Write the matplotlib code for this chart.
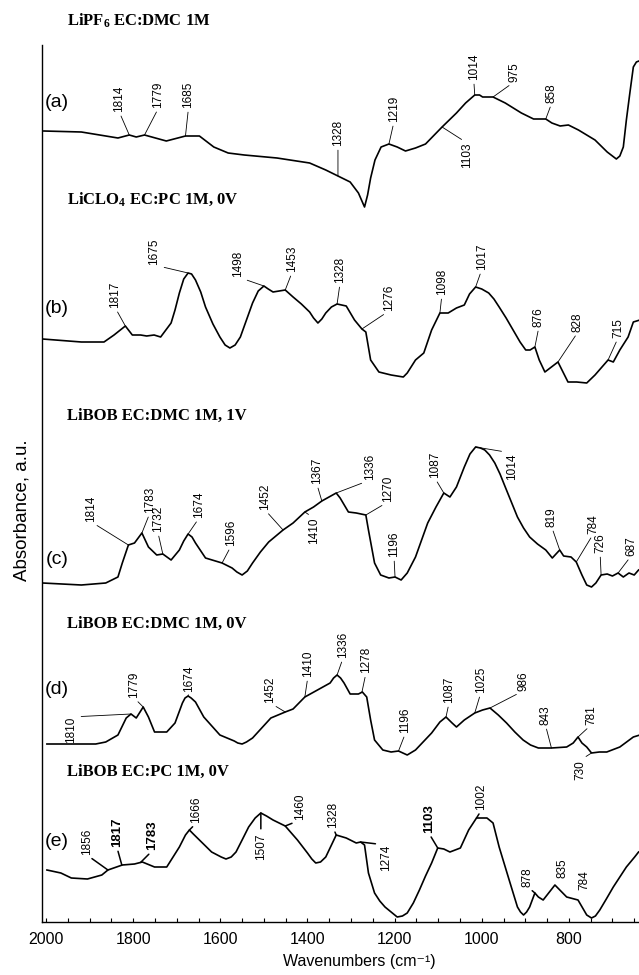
import numpy as np
import matplotlib
matplotlib.use("Agg")
import matplotlib.pyplot as plt

plt.rcParams["font.family"] = ["Liberation Sans", "DejaVu Sans"]
plt.rcParams["mathtext.fontset"] = "custom"
plt.rcParams["mathtext.rm"] = "Liberation Serif:bold"
plt.rcParams["mathtext.it"] = "Liberation Serif:bold"
plt.rcParams["mathtext.bf"] = "Liberation Serif:bold"

# ---------------------------------------------------------------
# Spectra (wavenumber in cm-1, absorbance a.u.
# already stacked with the offsets of the original figure)
# ---------------------------------------------------------------
wn_a = [2005, 1919, 1835, 1809, 1793, 1774, 1724, 1680, 1648, 1615, 1582, 1545,
        1470, 1395, 1358, 1330, 1302, 1283, 1269, 1262, 1255, 1245, 1231, 1213,
        1194, 1175, 1152, 1129, 1091, 1058, 1037, 1016, 1005, 998, 974, 946, 909,
        881, 853, 839, 820, 801, 778, 740, 712, 700, 691, 683, 675, 668, 660, 652,
        645, 639]
abs_a = [7.91, 7.90, 7.84, 7.87, 7.85, 7.87, 7.81, 7.86, 7.86, 7.75, 7.69, 7.67,
         7.64, 7.59, 7.52, 7.46, 7.40, 7.29, 7.15, 7.27, 7.44, 7.62, 7.75, 7.78,
         7.75, 7.71, 7.74, 7.78, 7.95, 8.09, 8.19, 8.27, 8.27, 8.25, 8.25, 8.19, 8.09,
         8.03, 8.03, 7.99, 7.96, 7.97, 7.92, 7.82, 7.70, 7.66, 7.63, 7.66, 7.75, 8.02,
         8.29, 8.55, 8.60, 8.61]

wn_b = [2008, 1919, 1867, 1844, 1818, 1802, 1783, 1769, 1752, 1737, 1713, 1704,
        1694, 1684, 1674, 1666, 1657, 1645, 1634, 1617, 1601, 1589, 1578, 1566,
        1554, 1540, 1526, 1513, 1500, 1490, 1479, 1451, 1433, 1414, 1395, 1386,
        1376, 1367, 1358, 1345, 1332, 1311, 1292, 1275, 1266, 1255, 1236, 1208,
        1180, 1171, 1152, 1133, 1115, 1096, 1077, 1058, 1040, 1028, 1014, 1000,
        984, 972, 960, 944, 928, 912, 899, 889, 878, 868, 855, 825, 802, 782, 759,
        740, 710, 698, 683, 664, 652, 637]
abs_b = [5.83, 5.80, 5.80, 5.87, 5.96, 5.87, 5.87, 5.86, 5.87, 5.85, 5.99, 6.12,
         6.29, 6.43, 6.49, 6.48, 6.42, 6.30, 6.15, 5.98, 5.85, 5.77, 5.74, 5.77,
         5.85, 6.02, 6.19, 6.31, 6.36, 6.33, 6.30, 6.32, 6.25, 6.18, 6.10, 6.04,
         5.99, 6.03, 6.09, 6.15, 6.18, 6.16, 6.02, 5.93, 5.90, 5.62, 5.50, 5.47,
         5.45, 5.49, 5.62, 5.69, 5.92, 6.09, 6.09, 6.14, 6.17, 6.28, 6.35, 6.33,
         6.29, 6.23, 6.15, 6.04, 5.92, 5.80, 5.72, 5.72, 5.75, 5.62, 5.50, 5.60, 5.40,
         5.40, 5.39, 5.47, 5.62, 5.60, 5.72, 5.85, 6.00, 6.02]

wn_c = [2008, 1919, 1863, 1835, 1825, 1811, 1797, 1780, 1765, 1746, 1732, 1713,
        1694, 1684, 1674, 1665, 1657, 1634, 1596, 1573, 1562, 1550, 1538, 1526,
        1508, 1489, 1456, 1433, 1406, 1386, 1367, 1334, 1325, 1306, 1288, 1266,
        1260, 1246, 1232, 1213, 1199, 1185, 1171, 1152, 1124, 1105, 1087, 1073,
        1058, 1049, 1040, 1027, 1014, 1003, 993, 982, 970, 958, 946, 932, 918, 904,
        890, 872, 853, 838, 821, 812, 795, 783, 770, 759, 748, 738, 726, 712, 700,
        687, 675, 662, 650, 640]
abs_c = [3.39, 3.37, 3.39, 3.45, 3.59, 3.77, 3.79, 3.89, 3.75, 3.67, 3.68, 3.62,
         3.72, 3.81, 3.88, 3.85, 3.79, 3.64, 3.59, 3.54, 3.50, 3.47, 3.51, 3.59,
         3.70, 3.80, 3.92, 3.99, 4.10, 4.15, 4.21, 4.29, 4.24, 4.10, 4.09, 4.07,
         3.92, 3.59, 3.47, 3.44, 3.45, 3.42, 3.49, 3.65, 3.99, 4.15, 4.29, 4.25,
         4.35, 4.45, 4.55, 4.68, 4.75, 4.74, 4.72, 4.67, 4.59, 4.48, 4.35, 4.20, 4.05, 3.94,
         3.85, 3.78, 3.72, 3.64, 3.72, 3.66, 3.65, 3.60, 3.47, 3.37, 3.35, 3.39, 3.47,
         3.48, 3.46, 3.49, 3.45, 3.49, 3.47, 3.52]

wn_d = [1998, 1956, 1886, 1863, 1835, 1816, 1805, 1793, 1777, 1765, 1751, 1723,
        1704, 1687, 1681, 1674, 1667, 1657, 1638, 1601, 1568, 1560, 1550, 1540,
        1526, 1484, 1451, 1433, 1406, 1377, 1348, 1340, 1332, 1324, 1316, 1302,
        1283, 1274, 1264, 1255, 1246, 1227, 1208, 1191, 1171, 1152, 1115, 1096,
        1082, 1068, 1058, 1040, 1016, 998, 981, 962, 943, 924, 905, 888, 870, 840,
        805, 790, 779, 770, 759, 748, 730, 713, 683, 652, 637]
abs_d = [1.78, 1.78, 1.78, 1.80, 1.87, 2.04, 2.08, 2.04, 2.15, 2.05, 1.90, 1.90,
         1.99, 2.19, 2.24, 2.26, 2.24, 2.20, 2.05, 1.87, 1.81, 1.79, 1.78, 1.80,
         1.84, 2.04, 2.10, 2.13, 2.25, 2.32, 2.39, 2.44, 2.47, 2.44, 2.39, 2.28,
         2.28, 2.30, 2.25, 2.02, 1.82, 1.72, 1.70, 1.71, 1.67, 1.72, 1.89, 2.00,
         2.05, 1.99, 1.95, 2.02, 2.09, 2.12, 2.14, 2.07, 1.99, 1.90, 1.82, 1.77, 1.74, 1.74,
         1.75, 1.79, 1.85, 1.79, 1.75, 1.69, 1.70, 1.70, 1.75, 1.85, 1.87]

wn_e = [1998, 1966, 1942, 1905, 1872, 1858, 1825, 1797, 1779, 1751, 1723, 1694,
        1680, 1671, 1662, 1648, 1634, 1620, 1598, 1587, 1575, 1564, 1550, 1535,
        1520, 1507, 1494, 1479, 1451, 1423, 1400, 1390, 1381, 1370, 1358, 1346,
        1334, 1311, 1288, 1278, 1269, 1260, 1246, 1234, 1222, 1208, 1194, 1182,
        1171, 1157, 1143, 1129, 1115, 1101, 1087, 1073, 1049, 1030, 1012, 988, 974,
        960, 937, 918, 911, 904, 897, 890, 878, 870, 859, 832, 805, 779, 759, 748,
        739, 729, 714, 698, 668, 649, 640]
abs_e = [0.52, 0.49, 0.44, 0.43, 0.47, 0.52, 0.57, 0.58, 0.60, 0.55, 0.55, 0.75,
         0.87, 0.92, 0.88, 0.82, 0.76, 0.70, 0.65, 0.63, 0.65, 0.70, 0.82, 0.95,
         1.04, 1.09, 1.06, 1.02, 0.96, 0.82, 0.69, 0.63, 0.59, 0.60, 0.65, 0.76,
         0.87, 0.84, 0.79, 0.80, 0.77, 0.49, 0.29, 0.21, 0.15, 0.10, 0.05, 0.06,
         0.09, 0.19, 0.32, 0.46, 0.59, 0.74, 0.73, 0.70, 0.74, 0.92, 1.04, 1.04, 0.99,
         0.75, 0.42, 0.15, 0.10, 0.07, 0.10, 0.15, 0.29, 0.25, 0.22, 0.37, 0.25, 0.22,
         0.07, 0.04, 0.06, 0.12, 0.23, 0.35, 0.55, 0.65, 0.70]

titles = [r"LiPF$_\mathbf{6}$ EC:DMC 1M", r"LiCLO$_\mathbf{4}$ EC:PC 1M, 0V",
          "LiBOB EC:DMC 1M, 1V", "LiBOB EC:DMC 1M, 0V", "LiBOB EC:PC 1M, 0V"]
tags = ["(a)", "(b)", "(c)", "(d)", "(e)"]

# peak labels: (text, wavenumber on curve, dx, dy) -- dx/dy = text offset in px
peaks_a = [("1814", 1809, -10, 23), ("1779", 1774, 14, 27), ("1685", 1680, 3, 28),
           ("1328", 1330, 0, 30), ("1219", 1213, 5, 22), ("1103", 1091, 25, -16),
           ("1014", 1016, -1, 15), ("975", 974, 21, 15), ("858", 853, 6, 16)]
peaks_b = [("1817", 1818, -10, 18), ("1675", 1674, -34, 8), ("1498", 1500, -26, 9),
           ("1453", 1451, 7, 18), ("1328", 1332, 3, 21), ("1276", 1275, 27, 18),
           ("1098", 1096, 2, 18), ("1017", 1014, 6, 17), ("876", 878, 4, 20),
           ("828", 825, 20, 30), ("715", 710, 10, 22)]
peaks_c = [("1814", 1811, -37, 23), ("1783", 1780, 8, 20), ("1732", 1732, -5, 22),
           ("1674", 1674, 11, 16), ("1596", 1596, 9, 17), ("1452", 1456, -18, 20),
           ("1410", 1406, 9, -6), ("1367", 1367, -5, 17), ("1336", 1334, 34, 13),
           ("1270", 1266, 22, 13), ("1196", 1199, -1, 20), ("1087", 1087, -9, 15),
           ("1014", 1014, 36, -6), ("819", 821, -8, 23), ("784", 783, 17, 28),
           ("726", 726, -1, 22), ("687", 687, 13, 17)]
peaks_d = [("1810", 1805, -60, -3), ("1779", 1777, -9, 9), ("1674", 1674, 1, 4),
           ("1452", 1451, -15, 9), ("1410", 1406, 3, 20), ("1336", 1332, 6, 17),
           ("1278", 1275, 4, 19), ("1196", 1191, 7, 18), ("1087", 1082, 3, 14),
           ("1025", 1016, 6, 20), ("986", 981, 33, 17), ("843", 840, -6, 23),
           ("781", 779, 13, 12), ("730", 748, -11, -7)]
peaks_e = [("1856", 1858, -21, 15), ("1817", 1826, -5, 18), ("1783", 1783, 12, 12),
           ("1666", 1671, 7, 7), ("1507", 1507, 0, -20), ("1460", 1451, 15, 6),
           ("1328", 1334, -3, 7), ("1274", 1278, 25, -3), ("1103", 1101, -9, 15),
           ("1002", 1012, 5, 8), ("878", 878, -7, 6), ("835", 832, 8, 7),
           ("784", 779, 6, 10)]
bold_e = {"1817", "1783", "1103"}
no_leader_e = {"835", "784"}

W, H = 639, 975


def px(x, y):
    """pixel position in the picture -> figure fraction"""
    return x / W, 1 - y / H


fig = plt.figure(figsize=(W / 100, H / 100), dpi=100)
left, bottom = px(41.7, 922)
_, top = px(0, 45)
ax = fig.add_axes([left, bottom, 1 - left, top - bottom])

spectra = [(wn_a, abs_a, peaks_a), (wn_b, abs_b, peaks_b), (wn_c, abs_c, peaks_c),
           (wn_d, abs_d, peaks_d), (wn_e, abs_e, peaks_e)]

for i, (wn, ab, peaks) in enumerate(spectra):
    wn = np.array(wn, dtype=float)
    ab = np.array(ab, dtype=float)
    ax.plot(wn, ab, color="black", lw=1.2, solid_joinstyle="round")
    for lab, w0, dx, dy in peaks:
        y0 = np.interp(w0, wn[::-1], ab[::-1])
        up = dy > 0
        bold = i == 4 and lab in bold_e
        lead = not (i == 4 and lab in no_leader_e)
        props = None
        if lead:
            props = dict(arrowstyle="-", color="black",
                         lw=1.1 if i == 4 else 0.6,
                         shrinkA=1, shrinkB=0,
                         relpos=(0.5, 0) if up else (0.5, 1))
        ax.annotate(lab, xy=(w0, y0), xytext=(dx, dy), textcoords="offset pixels",
                    rotation=90, ha="center", va="bottom" if up else "top",
                    fontsize=9.5 if bold else 8.5,
                    fontweight="bold" if bold else "normal",
                    arrowprops=props)

ax.set_xlim(2010, 639)
ax.set_ylim(0, 8.77)

ax.spines["top"].set_visible(False)
ax.spines["right"].set_visible(False)
ax.spines["left"].set_linewidth(1.0)
ax.spines["bottom"].set_linewidth(1.0)
ax.set_yticks([])
ax.set_xticks(np.arange(800, 2001, 200))
ax.set_xticks(np.arange(650, 2001, 50), minor=True)
ax.tick_params(axis="x", which="both", direction="in", length=3, width=0.8,
               labelsize=11.5, pad=7)

ax.set_xlabel("Wavenumbers (cm\u207b\u00b9)", fontsize=11.5)
ax.xaxis.set_label_coords((359 - 41.7) / (W - 41.7), -0.036)
ax.xaxis.label.set_va("top")
ax.set_ylabel("Absorbance, a.u.", fontsize=13.5)
ax.yaxis.set_label_coords(-0.018, 0.47)

# spectrum titles and (a)...(e) tags
title_base = [26, 204, 420, 628, 776]
tag_mid = [102.5, 309, 560, 689, 841]
for t, yb in zip(titles, title_base):
    fig.text(*px(67, yb), t, fontsize=12, fontfamily="Liberation Serif",
             fontweight="bold", ha="left", va="baseline")
for t, ym in zip(tags, tag_mid):
    fig.text(*px(57, ym), t, fontsize=14, ha="center", va="center")

fig.savefig("out.png", dpi=100)
